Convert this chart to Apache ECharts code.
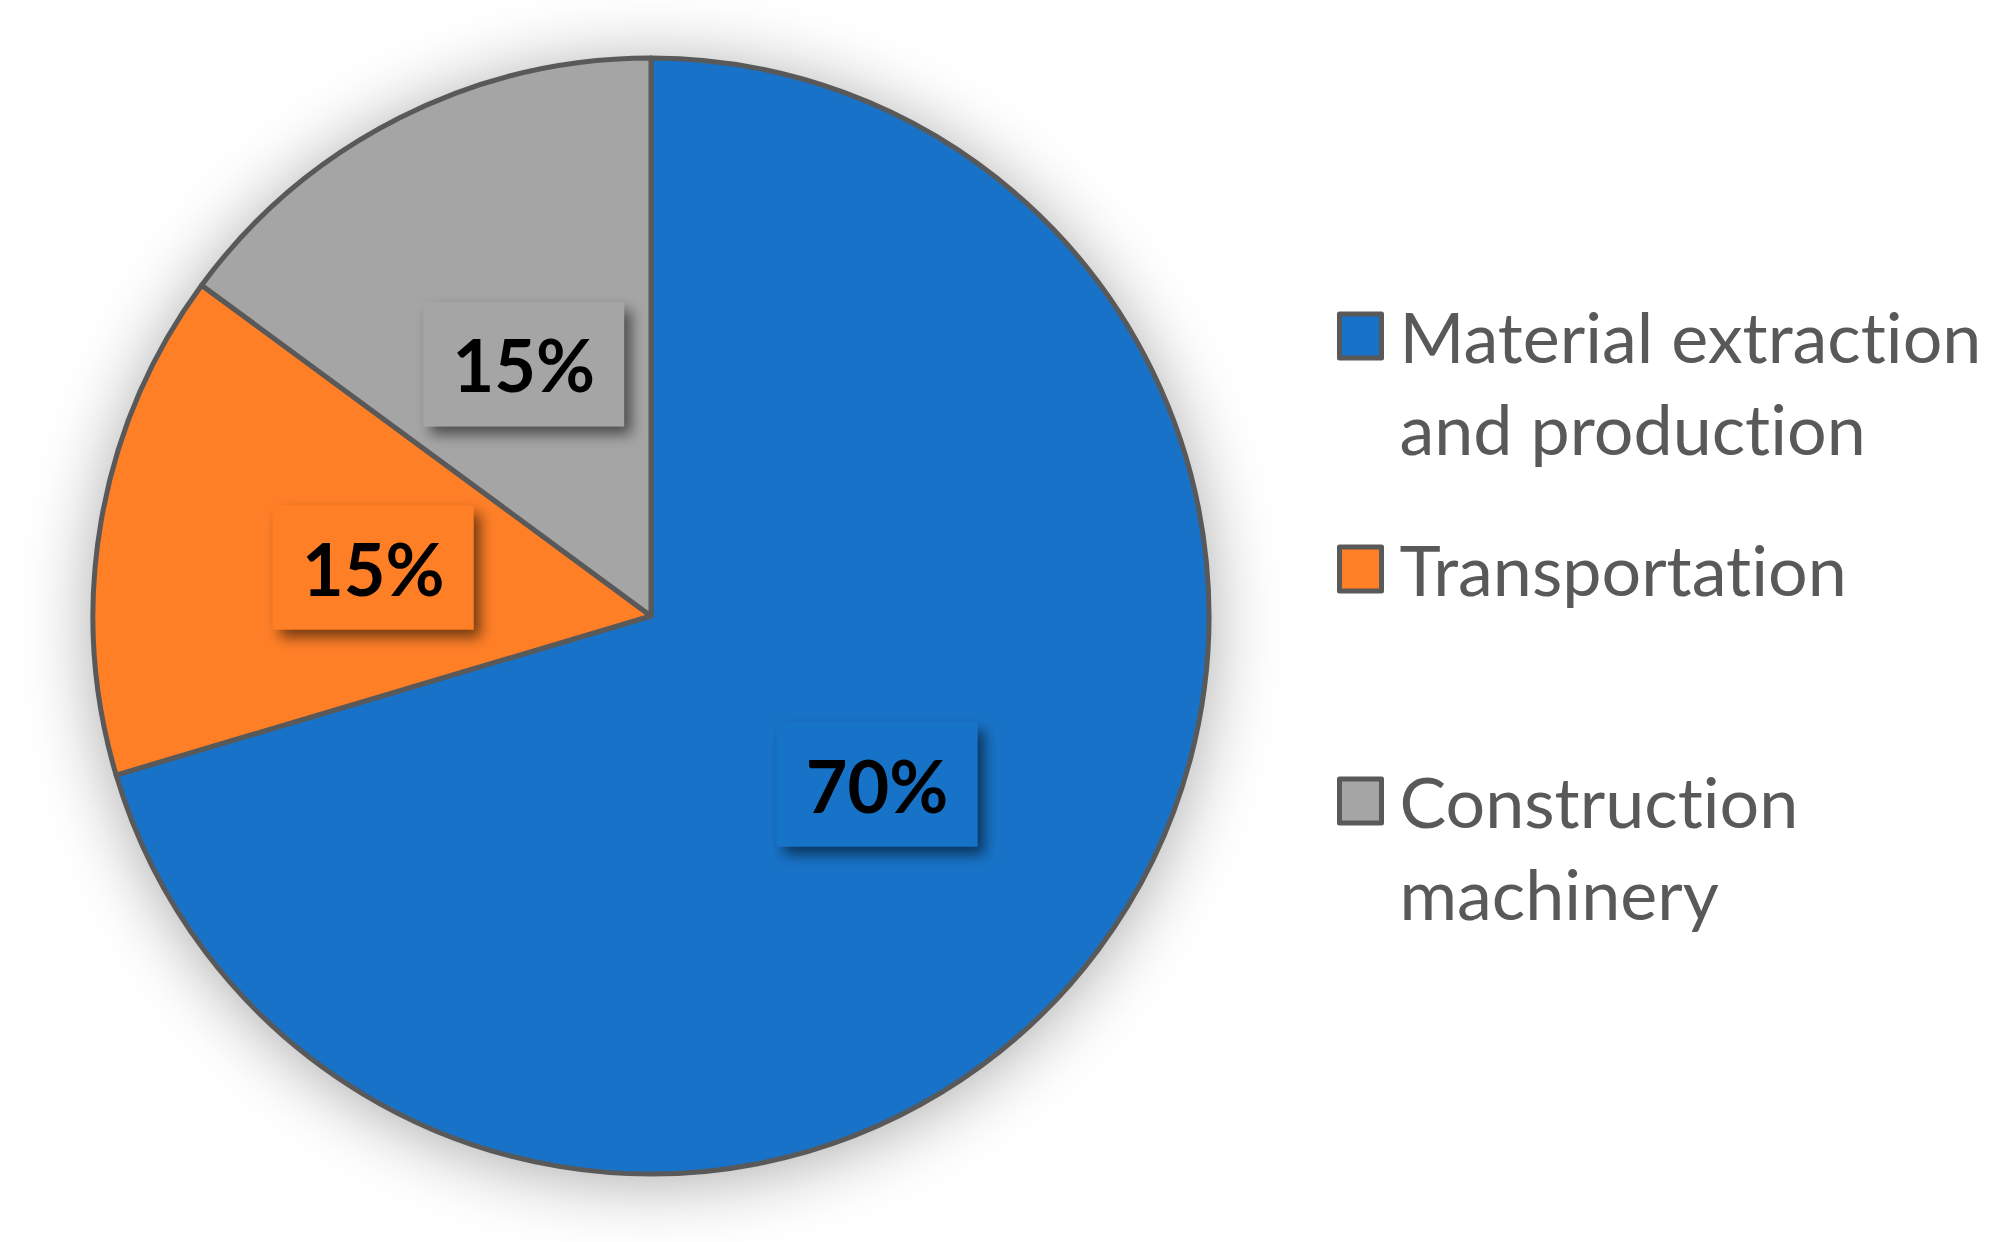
<!DOCTYPE html>
<html>
<head>
<meta charset="utf-8">
<script src="https://cdn.jsdelivr.net/npm/echarts@6/dist/echarts.min.js"></script>
<style>
html,body{margin:0;padding:0;background:#fff;}
#c{width:2010px;height:1242px;}
#c text, #c tspan{font-variant-ligatures:none;font-feature-settings:"liga" 0, "clig" 0;}
</style>
</head>
<body>
<div id="c"></div>
<script>
const categories = ['Material extraction\nand production', 'Transportation', 'Construction\nmachinery'];
const values = [70.4, 14.7, 14.9];
const colors = ['#1873C8', '#FF7F27', '#A5A5A5'];

const chart = echarts.init(document.getElementById('c'), null, {renderer: 'svg'});

const center = [651, 616];
const radius = 558;
const FONT = 'Lato, "Open Sans", sans-serif';
const LH = 92;

const pieData = categories.map((name, i) => ({
  name: name,
  value: values[i],
  itemStyle: {color: colors[i]},
  label: {backgroundColor: colors[i]}
}));

// square icon at the top of a taller box so it lines up with the first text line
const tallIcon = 'path://M0,0h42v44h-42z M0,' + (44 + LH);
const legendTops = [290, 523, 755];
const legends = categories.map((name, i) => {
  const twoLine = name.indexOf('\n') >= 0;
  return {
    data: [name],
    orient: 'vertical',
    left: 1337,
    top: legendTops[i],
    padding: 0,
    icon: twoLine ? tallIcon : 'rect',
    itemWidth: 42,
    itemHeight: twoLine ? 44 + LH : 44,
    selectedMode: false,
    itemStyle: {borderColor: '#595959', borderWidth: 5},
    textStyle: {
      fontFamily: FONT,
      fontSize: 70,
      color: '#595959',
      lineHeight: LH,
      padding: [0, 0, 0, 13]
    }
  };
});

chart.setOption({
  backgroundColor: '#ffffff',
  animation: false,
  legend: legends,
  series: [
    {
      type: 'pie',
      name: 'shadow',
      center: center,
      radius: radius,
      silent: true,
      z: 1,
      label: {show: false},
      labelLine: {show: false},
      itemStyle: {
        color: '#595959',
        shadowBlur: 70,
        shadowColor: 'rgba(0,0,0,0.35)',
        shadowOffsetY: 6
      },
      data: [{value: 1, name: '__bg'}]
    },
    {
      type: 'pie',
      name: 'Share',
      center: center,
      radius: radius,
      startAngle: 90,
      clockwise: true,
      percentPrecision: 0,
      z: 2,
      silent: true,
      itemStyle: {borderColor: '#595959', borderWidth: 5},
      label: {
        show: true,
        position: 'inside',
        formatter: '{d}%',
        fontFamily: FONT,
        fontWeight: 'bold',
        fontSize: 72,
        lineHeight: 82,
        color: '#000',
        padding: [21, 29],
        shadowColor: 'rgba(0,0,0,0.55)',
        shadowBlur: 14,
        shadowOffsetX: 7,
        shadowOffsetY: 8
      },
      labelLine: {show: false},
      data: pieData
    }
  ]
});
</script>
</body>
</html>
